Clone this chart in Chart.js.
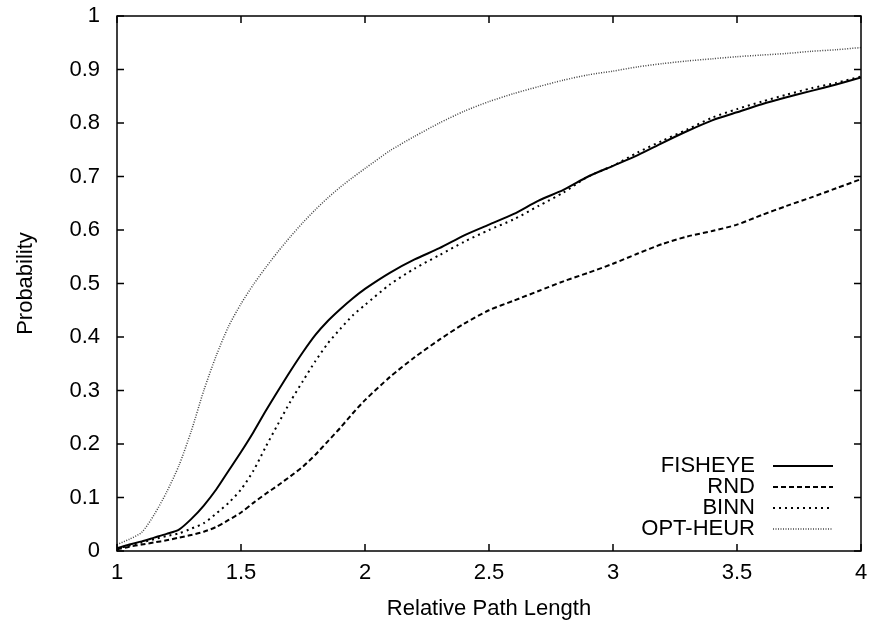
<!DOCTYPE html>
<html>
<head>
<meta charset="utf-8">
<script src="https://cdn.jsdelivr.net/npm/chart.js@4"></script>
<style>
  html, body { margin: 0; padding: 0; background: #fff; }
  #wrap { width: 871px; height: 624px; }
</style>
</head>
<body>
<div id="wrap"><canvas id="myChart" width="871" height="624"></canvas></div>
<script>
// Relative path length (x) shared by all series
const xs = [1.00, 1.05, 1.10, 1.15, 1.20, 1.25, 1.30, 1.35, 1.40, 1.45,
            1.50, 1.55, 1.60, 1.65, 1.70, 1.75, 1.80, 1.85, 1.90, 1.95,
            2.0, 2.1, 2.2, 2.3, 2.4, 2.5, 2.6, 2.7, 2.8, 2.9,
            3.0, 3.1, 3.2, 3.3, 3.4, 3.5, 3.6, 3.7, 3.8, 3.9, 4.0];

const fisheye = [0.005, 0.012, 0.018, 0.025, 0.032, 0.040, 0.060, 0.085, 0.115, 0.150,
                 0.185, 0.222, 0.262, 0.300, 0.337, 0.372, 0.404, 0.430, 0.452, 0.472,
                 0.490, 0.520, 0.545, 0.566, 0.590, 0.610, 0.630, 0.655, 0.675, 0.700,
                 0.720, 0.740, 0.763, 0.785, 0.805, 0.820, 0.835, 0.848, 0.860, 0.872, 0.885];

const rnd = [0.003, 0.008, 0.012, 0.016, 0.020, 0.025, 0.030, 0.036, 0.045, 0.058,
             0.072, 0.090, 0.107, 0.123, 0.140, 0.158, 0.180, 0.205, 0.230, 0.257,
             0.282, 0.325, 0.362, 0.395, 0.425, 0.450, 0.468, 0.486, 0.504, 0.520,
             0.537, 0.556, 0.574, 0.588, 0.598, 0.610, 0.628, 0.645, 0.661, 0.678, 0.695];

const binn = [0.005, 0.010, 0.016, 0.022, 0.028, 0.033, 0.042, 0.052, 0.070, 0.090,
              0.115, 0.150, 0.195, 0.238, 0.280, 0.318, 0.355, 0.388, 0.415, 0.440,
              0.460, 0.498, 0.528, 0.553, 0.578, 0.600, 0.620, 0.645, 0.670, 0.700,
              0.720, 0.745, 0.767, 0.788, 0.810, 0.826, 0.840, 0.853, 0.865, 0.875, 0.887];

const optHeur = [0.012, 0.022, 0.035, 0.068, 0.110, 0.160, 0.225, 0.300, 0.365, 0.420,
                 0.462, 0.498, 0.530, 0.560, 0.588, 0.614, 0.638, 0.660, 0.680, 0.698,
                 0.715, 0.748, 0.775, 0.800, 0.822, 0.840, 0.855, 0.868, 0.880, 0.890,
                 0.897, 0.905, 0.911, 0.916, 0.920, 0.924, 0.927, 0.930, 0.934, 0.937, 0.941];

const seriesNames = ['FISHEYE', 'RND', 'BINN', 'OPT-HEUR'];

const FONT = { family: '"Liberation Sans", Arial, sans-serif', size: 22 };

const pts = ys => xs.map((x, i) => ({ x: x, y: ys[i] }));
const fmt = v => String(+(+v).toFixed(2));

// gnuplot-like frame with inward ticks on all four sides
const frameTicks = {
    id: 'frameTicks',
    afterDraw(chart) {
        const { ctx, chartArea: a, scales } = chart;
        const len = 7;
        ctx.save();
        ctx.strokeStyle = '#000';
        ctx.lineWidth = 1.5;
        ctx.beginPath();
        scales.x.ticks.forEach(t => {
            const px = scales.x.getPixelForValue(t.value);
            ctx.moveTo(px, a.bottom); ctx.lineTo(px, a.bottom - len);
            ctx.moveTo(px, a.top); ctx.lineTo(px, a.top + len);
        });
        scales.y.ticks.forEach(t => {
            const py = scales.y.getPixelForValue(t.value);
            ctx.moveTo(a.left, py); ctx.lineTo(a.left + len, py);
            ctx.moveTo(a.right, py); ctx.lineTo(a.right - len, py);
        });
        ctx.stroke();
        ctx.strokeRect(a.left, a.top, a.right - a.left, a.bottom - a.top);
        ctx.restore();
    }
};

// legend in the lower right corner: right-aligned label, line sample after it
const keyBox = {
    id: 'keyBox',
    afterDraw(chart) {
        const { ctx } = chart;
        const textRight = 755, lineFrom = 773, lineTo = 833;
        let y = 466;
        ctx.save();
        ctx.font = FONT.size + 'px ' + FONT.family;
        ctx.textAlign = 'right';
        ctx.textBaseline = 'middle';
        chart.data.datasets.forEach(ds => {
            ctx.fillStyle = '#000';
            ctx.fillText(ds.label, textRight, y);
            ctx.strokeStyle = ds.borderColor;
            ctx.lineWidth = ds.borderWidth;
            ctx.setLineDash(ds.borderDash || []);
            ctx.beginPath();
            ctx.moveTo(lineFrom, y);
            ctx.lineTo(lineTo, y);
            ctx.stroke();
            y += 21;
        });
        ctx.restore();
    }
};

const ctx = document.getElementById('myChart');

new Chart(ctx, {
    type: 'line',
    data: {
        datasets: [
            { label: seriesNames[0], data: pts(fisheye), borderColor: '#000', borderWidth: 2, borderDash: [] },
            { label: seriesNames[1], data: pts(rnd), borderColor: '#000', borderWidth: 2, borderDash: [5, 3] },
            { label: seriesNames[2], data: pts(binn), borderColor: '#000', borderWidth: 2, borderDash: [2, 4] },
            { label: seriesNames[3], data: pts(optHeur), borderColor: '#444', borderWidth: 1.5, borderDash: [1, 1.5] }
        ]
    },
    options: {
        responsive: false,
        animation: false,
        layout: { padding: { top: 16, right: 10, left: 0, bottom: 0 } },
        elements: { point: { radius: 0 }, line: { tension: 0.25, fill: false } },
        plugins: {
            legend: { display: false },
            tooltip: { enabled: false }
        },
        scales: {
            x: {
                type: 'linear',
                min: 1, max: 4,
                grid: { display: false, drawTicks: false },
                border: { display: false },
                ticks: { stepSize: 0.5, color: '#000', font: FONT, padding: 9, maxRotation: 0, callback: fmt },
                title: { display: true, text: 'Relative Path Length', color: '#000', font: FONT, padding: { top: 4, bottom: 2 } },
                afterFit: s => { s.height = 73; s.paddingLeft = 0; s.paddingRight = 0; }
            },
            y: {
                min: 0, max: 1,
                grid: { display: false, drawTicks: false },
                border: { display: false },
                ticks: { stepSize: 0.1, color: '#000', font: FONT, padding: 17, callback: fmt },
                title: { display: true, text: 'Probability', color: '#000', font: FONT, padding: { top: 13, bottom: 4 } },
                afterFit: s => { s.width = 117; s.paddingTop = 0; s.paddingBottom = 0; }
            }
        }
    },
    plugins: [frameTicks, keyBox]
});
</script>
</body>
</html>
